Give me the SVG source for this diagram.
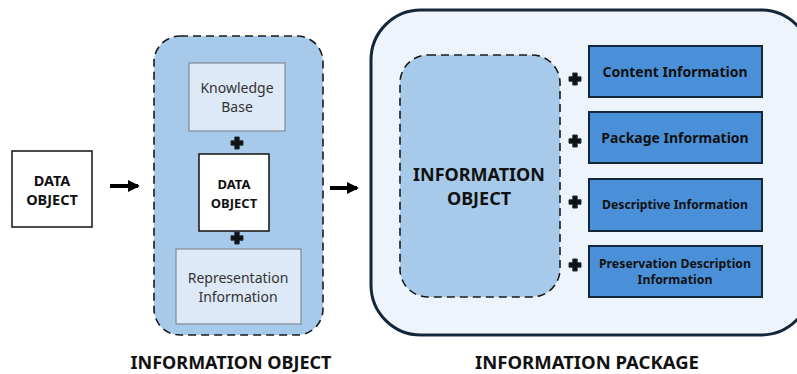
<svg xmlns="http://www.w3.org/2000/svg" width="797" height="374" viewBox="0 0 797 374">
<style>
text{font-family:"Noto Sans","Open Sans","DejaVu Sans",sans-serif;text-anchor:middle;fill:#111}
.b{font-weight:bold}
.dash{stroke:#1a1a1a;stroke-width:1.6;stroke-dasharray:8 5;fill:#a8caea}
.lt{fill:#dde9f7;stroke:#7f8a96;stroke-width:1.2}
.blue{fill:#4a90d9;stroke:#14273a;stroke-width:2}
.light{fill:#333;font-size:14px}
</style>
<defs>
<path id="plus" d="M-2.2,-6 H2.2 V-2.2 H6 V2.2 H2.2 V6 H-2.2 V2.2 H-6 V-2.2 H-2.2 Z" fill="#111" stroke="#1e2d3a" stroke-width="1"/>
<marker id="ah" markerWidth="12" markerHeight="12" refX="10" refY="6" orient="auto" markerUnits="userSpaceOnUse"><path d="M0,0 L12,6 L0,12 Z" fill="#000"/></marker>
</defs>
<g id="data-object">
<rect x="12" y="151" width="80" height="76" fill="#fff" stroke="#111" stroke-width="1.5"/>
<text class="b" x="52" y="186" font-size="14.5">DATA</text>
<text class="b" x="52" y="205" font-size="14.5">OBJECT</text>
</g>
<g id="info-object">
<rect x="154" y="36" width="169" height="299" rx="26" class="dash"/>
<g id="knowledge-base">
<rect x="189" y="63" width="96" height="68" class="lt"/>
<text class="light" x="237" y="93">Knowledge</text>
<text class="light" x="237" y="112">Base</text>
</g>
<use href="#plus" x="237" y="143"/>
<g id="inner-data-object">
<rect x="199" y="154" width="70" height="77" fill="#fff" stroke="#111" stroke-width="1.5"/>
<text class="b" x="234" y="189" font-size="13">DATA</text>
<text class="b" x="234" y="208" font-size="13">OBJECT</text>
</g>
<use href="#plus" x="237" y="238"/>
<g id="representation-info">
<rect x="176" y="249" width="125" height="75" class="lt"/>
<text class="light" x="238" y="283">Representation</text>
<text class="light" x="238" y="302">Information</text>
</g>
<text class="b" x="231" y="369" font-size="18">INFORMATION OBJECT</text>
</g>
<g id="info-package">
<rect x="371" y="10" width="440" height="325" rx="50" fill="#eef4fb" stroke="#14273a" stroke-width="3"/>
<g id="inner-info-object">
<rect x="400" y="55" width="160" height="242" rx="28" class="dash"/>
<text class="b" x="479" y="181" font-size="18">INFORMATION</text>
<text class="b" x="479" y="205" font-size="18">OBJECT</text>
</g>
<use href="#plus" x="575" y="79"/>
<use href="#plus" x="575" y="141"/>
<use href="#plus" x="575" y="202"/>
<use href="#plus" x="575" y="265"/>
<g id="content-info">
<rect x="589" y="46" width="173" height="51" class="blue"/>
<text class="b" x="675" y="77" font-size="14">Content Information</text>
</g>
<g id="package-info">
<rect x="589" y="112" width="173" height="51" class="blue"/>
<text class="b" x="675" y="143" font-size="14">Package Information</text>
</g>
<g id="descriptive-info">
<rect x="589" y="179" width="173" height="52" class="blue"/>
<text class="b" x="675" y="209" font-size="12.2">Descriptive Information</text>
</g>
<g id="pdi">
<rect x="589" y="246" width="173" height="51" class="blue"/>
<text class="b" x="675" y="268" font-size="12.3">Preservation Description</text>
<text class="b" x="675" y="284" font-size="12.3">Information</text>
</g>
<text class="b" x="587" y="369" font-size="18.5">INFORMATION PACKAGE</text>
</g>
<g id="connectors" stroke="#000" stroke-width="4" fill="none">
<line x1="110" y1="186" x2="138" y2="186" marker-end="url(#ah)"/>
<line x1="330" y1="188" x2="357" y2="188" marker-end="url(#ah)"/>
</g>
</svg>
